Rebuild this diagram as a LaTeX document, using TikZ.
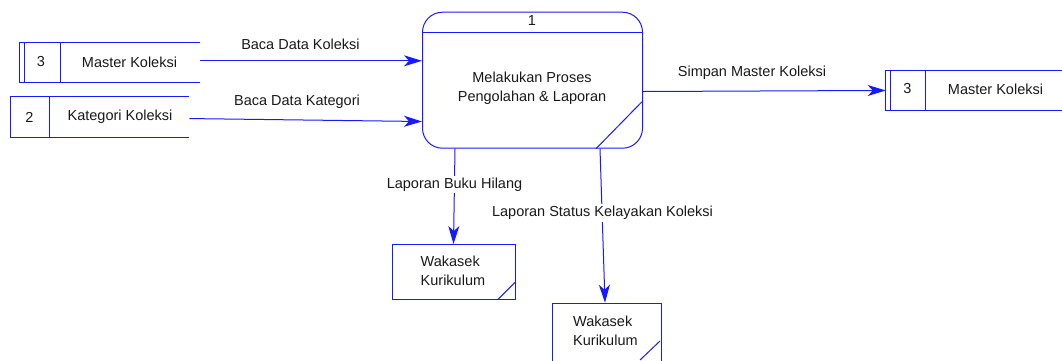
\documentclass[tikz,border=0pt]{standalone}
\usepackage{fontspec}
\setmainfont{Liberation Sans}
\usetikzlibrary{arrows.meta,calc}
\definecolor{dfdblue}{RGB}{25,25,255}
\definecolor{ink}{RGB}{25,25,25}
\begin{document}
\begin{tikzpicture}[x=1pt,y=-1pt,
  every node/.style={font=\fontsize{14.5}{18.5}\selectfont, text=ink},
  frame/.style={draw=dfdblue, line width=1pt},
  flow/.style={draw=dfdblue, line width=1pt, -{Stealth[length=18pt,width=11pt,inset=5pt]}},
  slot/.style={inner sep=0pt, anchor=north west},
  flowlabel/.style={fill=white, inner sep=2pt}
]
\useasboundingbox (0,0) rectangle (1062,360);

% process 1
\node[frame, slot, rounded corners=20pt, minimum width=220pt, minimum height=136pt] (proc) at (422,11.7) {};
\draw[frame] ($(proc.north west)+(0,20.6)$) -- ($(proc.north east)+(0,20.6)$);
\draw[frame] ($(proc.south east)+(-47,0)$) -- ($(proc.south east)+(-1,-47)$);
\node (pnum) at (532,21) {1};
\node[align=center] (ptext) at (532,88) {Melakukan Proses\\Pengolahan \& Laporan};

% data store 3, left
\node[slot, minimum width=181pt, minimum height=39.4pt] (mkL) at (19,42.3) {};
\draw[frame] (mkL.north east) -- (mkL.north west) -- (mkL.south west) -- (mkL.south east);
\draw[frame] ($(mkL.north west)+(5,0)$) -- ($(mkL.south west)+(5,0)$);
\draw[frame] ($(mkL.north west)+(41,0)$) -- ($(mkL.south west)+(41,0)$);
\node (mkLid) at (41,62) {3};
\node (mkLname) at (129.5,62) {Master Koleksi};

% data store 2
\node[slot, minimum width=179pt, minimum height=40.3pt] (kk) at (10,96.7) {};
\draw[frame] (kk.north east) -- (kk.north west) -- (kk.south west) -- (kk.south east);
\draw[frame] ($(kk.north west)+(39.5,0)$) -- ($(kk.south west)+(39.5,0)$);
\node (kkid) at (29.5,117) {2};
\node (kkname) at (120,117) {Kategori Koleksi};

% data store 3, right
\node[slot, minimum width=176.3pt, minimum height=39.5pt] (mkR) at (885.7,70.5) {};
\draw[frame] (mkR.north east) -- (mkR.north west) -- (mkR.south west) -- (mkR.south east);
\draw[frame] ($(mkR.north west)+(4.5,0)$) -- ($(mkR.south west)+(4.5,0)$);
\draw[frame] ($(mkR.north west)+(39.5,0)$) -- ($(mkR.south west)+(39.5,0)$);
\node (mkRid) at (907.5,89) {3};
\node (mkRname) at (995.5,89) {Master Koleksi};

% external entities
\node[frame, slot, minimum width=122.7pt, minimum height=55.3pt] (wk1) at (392.3,244) {};
\draw[frame] ($(wk1.south east)+(-18,-1)$) -- ($(wk1.south east)+(-1,-18)$);
\node[align=left, anchor=west, inner sep=0pt] (wk1text) at (420.5,271) {Wakasek\\Kurikulum};

\node[frame, slot, minimum width=109pt, minimum height=80pt] (wk2) at (551.7,302.7) {};
\draw[frame] (640,360) -- (660,341);
\node[align=left, anchor=west, inner sep=0pt] (wk2text) at (573,331) {Wakasek\\Kurikulum};

% data flows
\draw[flow] (mkL.east |- 0,60.8) -- (proc.west |- 0,60.8);
\node (f1) at (300.5,44) {Baca Data Koleksi};

\draw[flow] ($(kk.east)+(0,1.5)$) -- ($(proc.west)+(0,41.3)$);
\node (f2) at (297,102) {Baca Data Kategori};

\draw[flow] ($(proc.east)+(0,11.3)$) -- (mkR.west);
\node (f3) at (752,73) {Simpan Master Koleksi};

\draw[flow] ($(proc.south west)+(33,0)$) -- ($(wk1.north west)+(61.2,0)$);
\node[flowlabel] (f4) at (454.5,184.5) {Laporan Buku Hilang};

\draw[flow] ($(proc.south west)+(178,0)$) -- ($(wk2.north west)+(53.3,0)$);
\node[flowlabel] (f5) at (602.5,213) {Laporan Status Kelayakan Koleksi};
\end{tikzpicture}
\end{document}
